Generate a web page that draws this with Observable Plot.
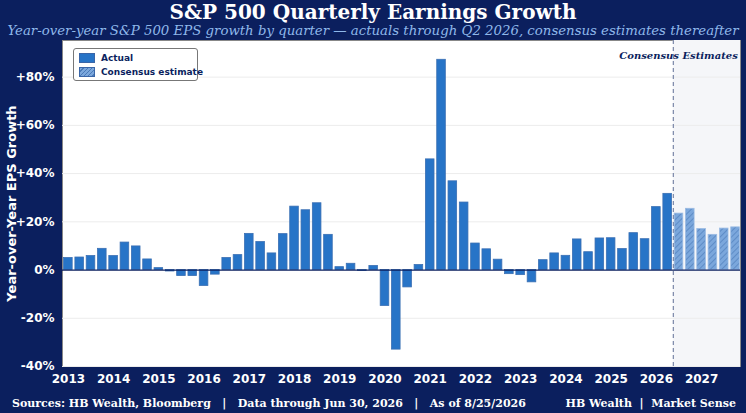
<!DOCTYPE html>
<html><head><meta charset="utf-8">
<script src="https://cdn.jsdelivr.net/npm/d3@7"></script>
<script src="https://cdn.jsdelivr.net/npm/@observablehq/plot@0.6"></script>
<style>
body{margin:0;background:#0b1f5e;width:746px;height:413px;overflow:hidden;font-family:"DejaVu Sans",sans-serif;position:relative}
#title{position:absolute;top:1px;width:746px;text-align:center;color:#fff;font:bold 20px/22px "DejaVu Serif",serif;white-space:nowrap}
#sub{position:absolute;top:23px;width:746px;text-align:center;color:#8fb8ea;font:italic 13.3px/15px "DejaVu Serif",serif;white-space:nowrap}
#chart{position:absolute;top:40px;left:0}
#foot{position:absolute;top:397px;left:12px;right:10px;color:#fff;font:bold 11px "DejaVu Serif",serif;white-space:nowrap}
#foot span{position:absolute;right:0;top:0}
#legend{position:absolute;left:73px;top:48px;width:123px;height:31px;background:#fff;border:1px solid #777;border-radius:3px;font:bold 9px "DejaVu Sans",sans-serif;color:#0b1f5e;white-space:nowrap}
.li{position:absolute;left:5px;display:flex;align-items:center}
.sw{width:14px;height:8px;margin-right:6px;border:1px solid #3a66a8}
#ylab{position:absolute;left:-89px;top:196px;width:200px;transform:rotate(-90deg);text-align:center;color:#fff;font:bold 13px "DejaVu Sans",sans-serif;white-space:nowrap}
</style></head><body>
<div id="title">S&amp;P 500 Quarterly Earnings Growth</div>
<div id="sub">Year-over-year S&amp;P 500 EPS growth by quarter — actuals through Q2 2026, consensus estimates thereafter</div>
<div id="chart"></div>
<div id="ylab">Year-over-Year EPS Growth</div>
<div id="legend">
<div class="li" style="top:4px"><div class="sw" style="background:#2774c7"></div>Actual</div>
<div class="li" style="top:18px"><div class="sw" style="background:repeating-linear-gradient(135deg,#7ba7dc 0 2px,#4a7ab8 2px 3px)"></div>Consensus estimate</div>
</div>
<div id="foot">Sources: HB Wealth, Bloomberg &nbsp; | &nbsp; Data through Jun 30, 2026 &nbsp; | &nbsp; As of 8/25/2026<span>HB Wealth &nbsp;|&nbsp; Market Sense</span></div>
<script>
const startYear = 2013;
const actual = [5.0,5.2,5.8,8.8, 5.8,11.4,9.8,4.4, 0.8,-0.6,-2.5,-2.5, -6.6,-1.9,5.0,6.2,
 15.0,11.6,6.9,14.9, 26.3,24.8,27.7,14.6, 1.2,2.6,-0.4,1.7, -14.9,-33.0,-7.2,2.1,
 45.9,87.2,36.8,28.0, 11.0,8.6,4.3,-1.7, -2.1,-5.1,4.1,6.9, 5.9,12.7,7.4,13.1,
 13.2,8.7,15.3,12.8, 26.1,31.6];
const estimates = [23.4,25.4,17.0,14.6,17.2,17.7];
const yTicks = [-40,-20,0,20,40,60,80];
const xTicks = d3.range(2013,2028);
const rows = actual.map((v,i)=>({t:startYear+i/4,v,est:false}))
  .concat(estimates.map((v,j)=>({t:startYear+(actual.length+j)/4,v,est:true})));
const estStart = startYear+(actual.length-0.5)/4;
const hw = 0.095;
const fmt = d => d===0?"0%":(d>0?"+":"")+d+"%";
const plot = Plot.plot({
  width:746,height:350,marginLeft:62,marginRight:6,marginTop:0,marginBottom:24,
  x:{domain:[2012.87,2027.86],ticks:xTicks,tickFormat:d=>String(d)},
  y:{domain:[-40,95.2],ticks:yTicks,tickFormat:fmt},
  style:{background:"transparent",color:"#fff",fontFamily:"DejaVu Sans",fontSize:"12px",fontWeight:"bold"},
  marks:[
    Plot.frame({fill:"#fff",stroke:"#888"}),
    Plot.rect([0],{x1:estStart,x2:2027.86,y1:-40,y2:95.2,fill:"#f5f6f9"}),
    Plot.gridY(yTicks.filter(d=>d!==0),{stroke:"#ececec",strokeOpacity:1}),
    Plot.rectY(rows,{x1:d=>d.t-hw,x2:d=>d.t+hw,y1:0,y2:"v",
      fill:d=>d.est?"url(#hatch)":"#2774c7",stroke:d=>d.est?"#9bbbe3":"#3a6fb3",strokeWidth:0.8}),
    Plot.ruleY([0],{stroke:"#0b1f5e",strokeWidth:1.2}),
    Plot.ruleX([estStart],{stroke:"#7a86a8",strokeDasharray:"4,3",strokeWidth:1.2}),
    Plot.text(["Consensus Estimates"],{x:2027.8,y:89,text:d=>d,textAnchor:"end",fill:"#0b1f5e",
      fontStyle:"italic",fontWeight:"bold",fontSize:10,fontFamily:"DejaVu Serif"}),
    Plot.axisY({ticks:yTicks,tickFormat:fmt,tickSize:0,tickPadding:8,label:null,fill:"#fff"}),
    Plot.axisX({ticks:xTicks,tickFormat:d=>String(d),tickSize:0,tickPadding:8,label:null,fill:"#fff"})
  ]
});
const svg = d3.select(plot);
const defs = svg.insert("defs",":first-child");
const p = defs.append("pattern").attr("id","hatch").attr("patternUnits","userSpaceOnUse")
  .attr("width",4).attr("height",4).attr("patternTransform","rotate(45)");
p.append("rect").attr("width",4).attr("height",4).attr("fill","#7ba7dc");
p.append("line").attr("x1",0).attr("y1",0).attr("x2",0).attr("y2",4).attr("stroke","#4a7ab8").attr("stroke-width",1.2);
document.getElementById("chart").appendChild(plot);
</script>
</body></html>
